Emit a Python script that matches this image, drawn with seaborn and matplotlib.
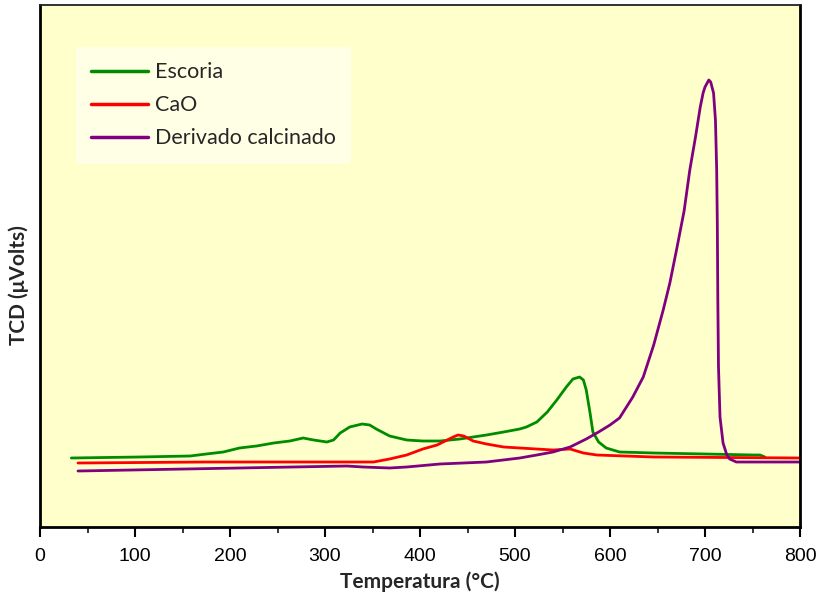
import numpy as np
import pandas as pd
import matplotlib
matplotlib.use("Agg")
import matplotlib.pyplot as plt
import seaborn as sns
from matplotlib.ticker import MultipleLocator, NullLocator

# TPD signal (arbitrary detector units) versus temperature (°C)
escoria_t = [33, 105, 158, 175, 193, 210, 228, 246, 263, 277, 288, 302, 309, 316, 326,
             339, 347, 354, 368, 386, 403, 421, 442, 470, 488, 505, 512, 523, 534, 544,
             554, 561, 568, 572, 575, 579, 582, 588, 596, 610, 646, 700, 751, 758, 763]
escoria_v = [69, 70, 71, 73, 75, 79, 81, 84, 86, 89, 87, 85, 87, 94, 100,
             103, 102, 98, 91, 87, 86, 86, 88, 92, 95, 98, 100, 105, 115, 127,
             140, 148, 150, 147, 137, 114, 95, 85, 79, 75, 74, 73, 72, 72, 70]

cao_t = [40, 175, 351, 368, 386, 403, 418, 435, 440, 446, 456, 470, 488, 505, 540,
         558, 572, 586, 646, 800]
cao_v = [64, 65, 65, 68, 72, 78, 82, 90, 92, 91, 86, 83, 80, 79, 77,
         78, 74, 72, 70, 69]

deriv_t = [40, 210, 323, 340, 368, 386, 421, 470, 505, 523, 540, 558, 575, 588, 600,
           610, 624, 635, 646, 656, 663, 670, 678, 684, 690, 695, 698, 700, 704, 706,
           709, 711, 712.3, 713, 713.5, 714.2, 715.8, 719, 723, 726, 733, 800]
deriv_v = [56, 59, 61, 60, 59, 60, 63, 65, 69, 72, 75, 80, 88, 95, 102,
           109, 130, 150, 182, 217, 244, 277, 316, 357, 390, 420, 434, 440, 447, 445,
           434, 407, 357, 300, 227, 160, 110, 84, 72, 68, 65, 65]

series_names = ["Escoria", "CaO", "Derivado calcinado"]
series_colors = ["#008C00", "#FF0000", "#800080"]

x_ticks = [0, 100, 200, 300, 400, 500, 600, 700, 800]

frames = []
for name, t, v in zip(series_names, [escoria_t, cao_t, deriv_t], [escoria_v, cao_v, deriv_v]):
    frames.append(pd.DataFrame({"Temperatura": t, "TCD": v, "Muestra": name}))
df = pd.concat(frames, ignore_index=True)

sns.set_style("white")
plt.rcParams["font.family"] = ["Lato", "DejaVu Sans"]
plt.rcParams["lines.solid_joinstyle"] = "round"
plt.rcParams["lines.solid_capstyle"] = "round"

fig = plt.figure(figsize=(8.21, 5.97), dpi=100)
ax = fig.add_axes([40 / 821, 1 - 527 / 597, 760 / 821, 522 / 597])
ax.set_facecolor("#FFFFCC")

sns.lineplot(data=df, x="Temperatura", y="TCD", hue="Muestra", hue_order=series_names,
             palette=series_colors, sort=False, estimator=None, linewidth=2.0, ax=ax)

ax.set_xlim(0, 800)
ax.set_ylim(0, 522)
ax.xaxis.set_minor_locator(MultipleLocator(50))
ax.yaxis.set_major_locator(NullLocator())
ax.set_xticks(x_ticks)
ax.set_xticklabels([str(t) for t in x_ticks],
                   fontfamily=["Liberation Sans Narrow", "Liberation Sans", "DejaVu Sans"],
                   fontsize=14)
ax.tick_params(axis="x", which="major", direction="out", length=7, width=1.5,
               bottom=True, pad=8, colors="black")
ax.tick_params(axis="x", which="minor", direction="out", length=4, width=1.3, bottom=True)

for side in ["left", "right", "bottom"]:
    ax.spines[side].set_linewidth(2.0)
    ax.spines[side].set_color("black")
ax.spines["top"].set_linewidth(1.3)
ax.spines["top"].set_color("#222222")

ax.set_xlabel("Temperatura (°C)", fontsize=15, fontweight="bold", labelpad=5)
ax.set_ylabel("TCD (μVolts)", fontsize=15, fontweight="bold")
ax.yaxis.set_label_coords(-0.014, 0.464)

leg = ax.legend(loc="upper left", bbox_to_anchor=(0.047, 0.92), frameon=True,
                fontsize=15.5, handlelength=2.65, handletextpad=0.3, labelspacing=0.6,
                borderpad=0.72, borderaxespad=0)
leg.get_frame().set_facecolor("#FFFFE6")
leg.get_frame().set_edgecolor("none")
leg.get_frame().set_alpha(1)
for line in leg.get_lines():
    line.set_linewidth(2.5)

fig.savefig("out.png", dpi=100, facecolor="white")
